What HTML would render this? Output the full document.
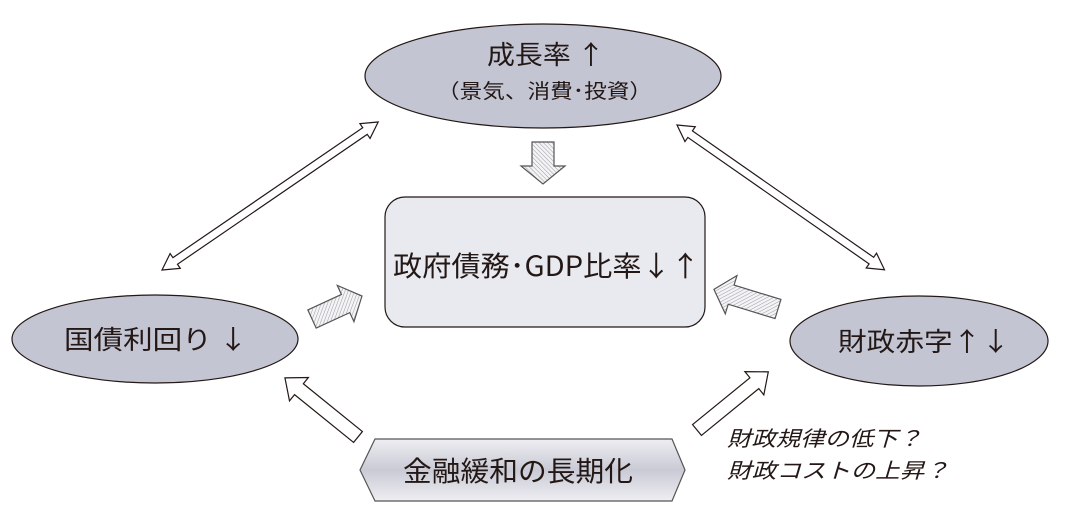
<!DOCTYPE html>
<html><head><meta charset="utf-8"><style>
html,body{margin:0;padding:0;background:#fff;}
svg{display:block;}
text{font-family:"Noto Sans CJK JP","Liberation Sans",sans-serif;fill:#231815;font-weight:400;}
</style></head><body>
<svg width="1066" height="519" viewBox="0 0 1066 519" xmlns="http://www.w3.org/2000/svg">
<defs>
<pattern id="h" width="3" height="3" patternUnits="userSpaceOnUse" patternTransform="rotate(45)">
<rect width="3" height="3" fill="#f4f4f6"/><line x1="0" y1="0" x2="0" y2="3" stroke="#9a9aa2" stroke-width="1"/>
</pattern>
<linearGradient id="g" x1="0" y1="0" x2="0" y2="1">
<stop offset="0" stop-color="#eeeef2"/><stop offset="0.5" stop-color="#c9cad5"/><stop offset="1" stop-color="#eeeef2"/>
</linearGradient>
</defs>
<g stroke="#231815" stroke-width="1.2">
<ellipse cx="543" cy="76" rx="178" ry="52" fill="#c4c5d3"/>
<rect x="385" y="197" width="320" height="130" rx="20" fill="#e9eaf0"/>
<ellipse cx="155" cy="339" rx="143" ry="44" fill="#c4c5d3"/>
<ellipse cx="919" cy="341" rx="129" ry="45" fill="#c4c5d3"/>
<polygon points="375,439 672,439 685,470 672,501 375,501 360,470" fill="url(#g)" stroke="#555"/>
<polygon transform="translate(162,270) rotate(-34.4)" points="0,0 16,-9 16,-4 246,-4 246,-9 262,0 246,9 246,4 16,4 16,9" fill="#fff"/>
<polygon transform="translate(677,125) rotate(34.9)" points="0,0 16,-9 16,-4 237,-4 237,-9 253,0 237,9 237,4 16,4 16,9" fill="#fff"/>
<polygon transform="translate(543,142) rotate(90)" points="0,-11 24,-11 24,-22 42,0 24,22 24,11 0,11" fill="url(#h)" stroke="#555"/>
<polygon transform="translate(312,319) rotate(-24.7)" points="0,-10 37,-10 37,-20 55,0 37,20 37,10 0,10" fill="url(#h)" stroke="#555"/>
<polygon transform="translate(778,309) rotate(197)" points="0,-10 49,-10 49,-20 67,0 49,20 49,10 0,10" fill="url(#h)" stroke="#555"/>
<polygon transform="translate(358,437) rotate(219)" points="0,-7 76,-7 76,-15 94,0 76,15 76,7 0,7" fill="#fff"/>
<polygon transform="translate(697,430) rotate(-39.2)" points="0,-7 74,-7 74,-15 92,0 74,15 74,7 0,7" fill="#fff"/>
</g>
<text x="487" y="64" font-size="26" textLength="118" lengthAdjust="spacingAndGlyphs">成長率 ↑</text>
<text x="437" y="98" font-size="20" textLength="215" lengthAdjust="spacingAndGlyphs">（景気、消費･投資）</text>
<text x="393" y="276" font-size="28" textLength="307" lengthAdjust="spacingAndGlyphs">政府債務･GDP比率↓↑</text>
<text x="64" y="349" font-size="26" textLength="184" lengthAdjust="spacingAndGlyphs">国債利回り ↓</text>
<text x="838" y="351" font-size="26" textLength="172" lengthAdjust="spacingAndGlyphs">財政赤字↑↓</text>
<text x="403" y="481" font-size="28" textLength="230" lengthAdjust="spacingAndGlyphs">金融緩和の長期化</text>
<text x="727" y="446" font-size="21" font-style="italic" font-weight="700" textLength="195" lengthAdjust="spacingAndGlyphs">財政規律の低下？</text>
<text x="727" y="478" font-size="21" font-style="italic" font-weight="700" textLength="222" lengthAdjust="spacingAndGlyphs">財政コストの上昇？</text>
</svg>
</body></html>
